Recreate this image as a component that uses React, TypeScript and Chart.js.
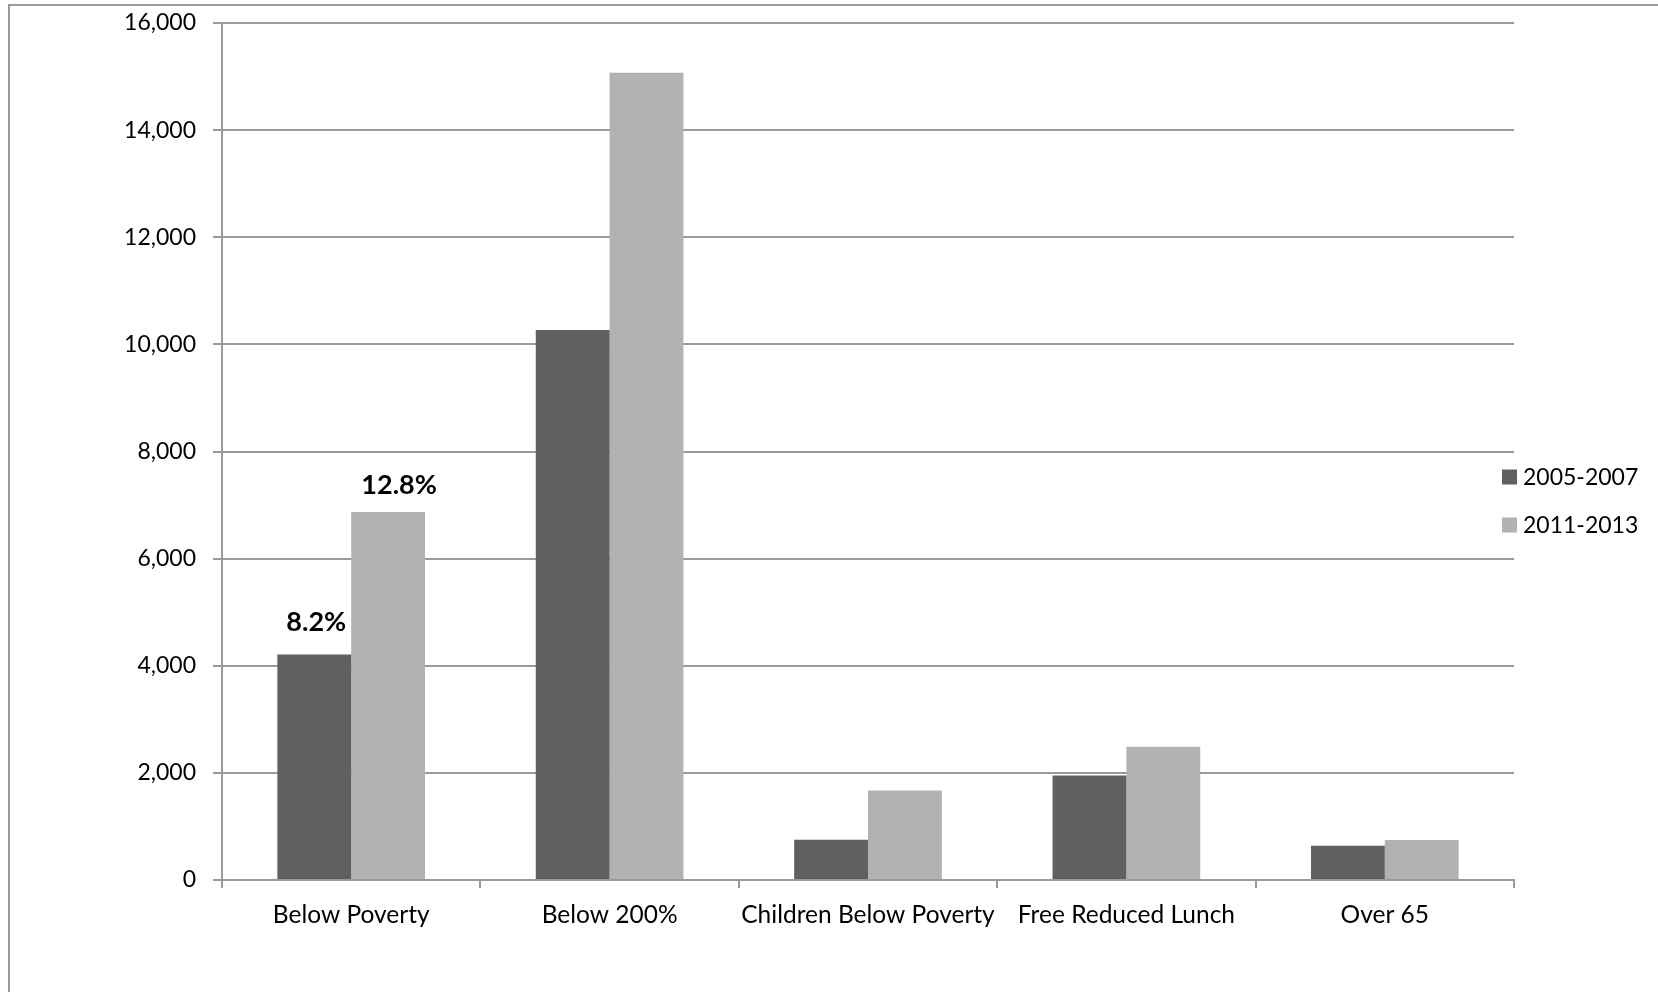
import React, { useEffect, useRef } from "react";
import { Chart, registerables } from "chart.js";

Chart.register(...registerables);

const categories = [
  "Below Poverty",
  "Below 200%",
  "Children Below Poverty",
  "Free Reduced Lunch",
  "Over 65",
];
const seriesNames = ["2005-2007", "2011-2013"];
const values2005 = [4210, 10270, 750, 1950, 640];
const values2011 = [6870, 15070, 1670, 2490, 745];
const pctLabels2005 = ["8.2%", "", "", "", ""];
const pctLabels2011 = ["12.8%", "", "", "", ""];
const yTicks = [0, 2000, 4000, 6000, 8000, 10000, 12000, 14000, 16000];

const DARK = "#606060";
const LIGHT = "#b2b2b2";
const GRID = "#9a9a9a";
const FONT = "Lato, 'Open Sans', sans-serif";

const decorPlugin = {
  id: "decor",
  beforeDraw(chart: any) {
    const ctx = chart.ctx;
    ctx.save();
    ctx.strokeStyle = "#9a9a9a";
    ctx.lineWidth = 2;
    ctx.beginPath();
    ctx.moveTo(9, chart.height + 5);
    ctx.lineTo(9, 5);
    ctx.lineTo(chart.width + 5, 5);
    ctx.stroke();
    ctx.restore();
  },
  afterDraw(chart: any) {
    const ctx = chart.ctx;
    ctx.save();
    // value labels
    const labelSets = [pctLabels2005, pctLabels2011];
    const dx = [2, 11];
    const dy = [32, 27];
    ctx.font = `bold 27px ${FONT}`;
    ctx.fillStyle = "#000";
    ctx.textAlign = "center";
    ctx.textBaseline = "middle";
    labelSets.forEach((labels, di) => {
      const meta = chart.getDatasetMeta(di);
      labels.forEach((t, i) => {
        if (!t) return;
        const el = meta.data[i];
        ctx.fillText(t, el.x + dx[di], el.y - dy[di]);
      });
    });
    // legend
    const colors = [DARK, LIGHT];
    const cy = [477, 525];
    ctx.font = `23px ${FONT}`;
    ctx.textAlign = "left";
    seriesNames.forEach((n, i) => {
      ctx.fillStyle = colors[i];
      ctx.fillRect(1502, cy[i] - 7.5, 15, 15);
      ctx.fillStyle = "#000";
      ctx.fillText(n, 1523, cy[i] + 1);
    });
    ctx.restore();
  },
};

export default function App() {
  const ref = useRef<HTMLCanvasElement | null>(null);
  useEffect(() => {
    document.body.style.margin = "0";
    const chart = new Chart(ref.current as HTMLCanvasElement, {
      type: "bar",
      data: {
        labels: categories,
        datasets: [
          {
            label: seriesNames[0],
            data: values2005,
            backgroundColor: DARK,
            categoryPercentage: 2 / 3.5,
            barPercentage: 1,
          },
          {
            label: seriesNames[1],
            data: values2011,
            backgroundColor: LIGHT,
            categoryPercentage: 2 / 3.5,
            barPercentage: 1,
          },
        ],
      },
      options: {
        animation: false,
        responsive: false,
        maintainAspectRatio: false,
        layout: { padding: { left: 0, top: 23, right: 144, bottom: 0 } },
        plugins: {
          legend: { display: false },
          tooltip: { enabled: false },
        },
        scales: {
          x: {
            grid: {
              offset: true,
              drawOnChartArea: false,
              drawTicks: true,
              tickLength: 8,
              color: GRID,
              lineWidth: 2,
            },
            border: { color: GRID, width: 2 },
            ticks: {
              color: "#000",
              font: { family: FONT, size: 24.5 },
              padding: 12,
              maxRotation: 0,
              autoSkip: false,
            },
            afterFit(scale: any) {
              scale.height = 112;
              scale.paddingLeft = 0;
              scale.paddingRight = 0;
            },
          },
          y: {
            min: 0,
            max: 16000,
            afterBuildTicks(scale: any) {
              scale.ticks = yTicks.map((v) => ({ value: v }));
            },
            grid: {
              color: GRID,
              lineWidth: 2,
              tickLength: 9,
              drawTicks: true,
            },
            border: { color: GRID, width: 2 },
            ticks: {
              color: "#000",
              font: { family: FONT, size: 23 },
              padding: 17,
              callback: (v: any) => Number(v).toLocaleString("en-US"),
            },
            afterFit(scale: any) {
              scale.width = 222;
              scale.paddingTop = 0;
              scale.paddingBottom = 0;
            },
          },
        },
      },
      plugins: [decorPlugin],
    });
    return () => chart.destroy();
  }, []);
  return (
    <div style={{ position: "fixed", left: 0, top: 0, width: 1658, height: 992, background: "#fff" }}>
      <canvas ref={ref} width={1658} height={992} style={{ width: 1658, height: 992, display: "block" }} />
    </div>
  );
}
